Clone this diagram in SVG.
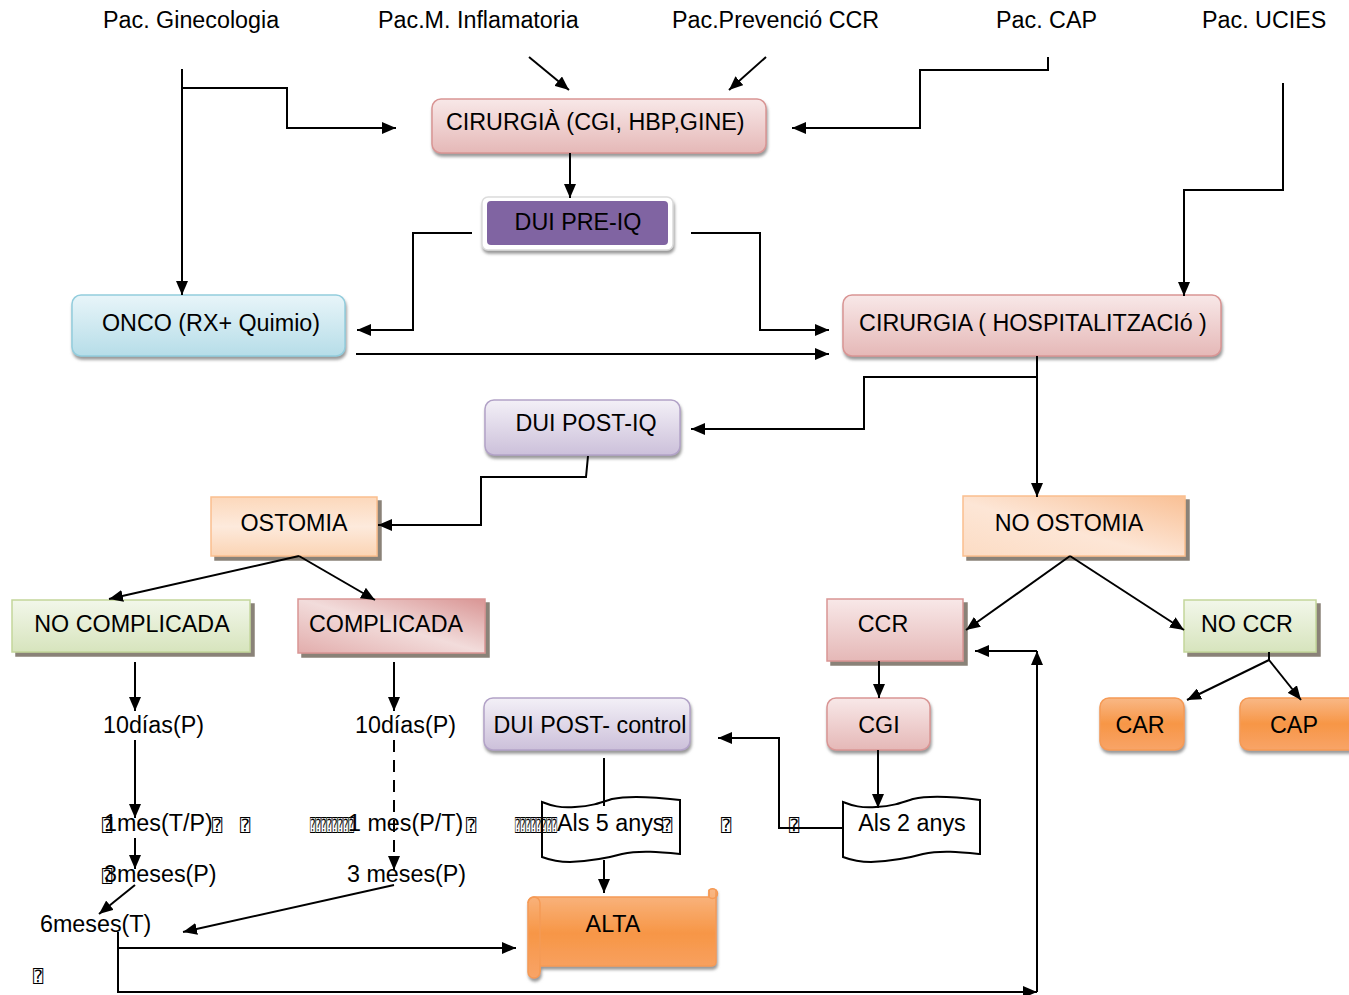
<svg xmlns="http://www.w3.org/2000/svg" width="1349" height="995" viewBox="0 0 1349 995">
  <defs>
    <linearGradient id="gPink" x1="0" y1="0" x2="0" y2="1">
      <stop offset="0" stop-color="#f8e8e8"/>
      <stop offset="1" stop-color="#e5b8b7"/>
    </linearGradient>
    <linearGradient id="gBlue" x1="0" y1="0" x2="0" y2="1">
      <stop offset="0" stop-color="#e8f5f9"/>
      <stop offset="1" stop-color="#b6dde8"/>
    </linearGradient>
    <linearGradient id="gLav" x1="0" y1="0" x2="0" y2="1">
      <stop offset="0" stop-color="#f3f0f7"/>
      <stop offset="1" stop-color="#ccc0da"/>
    </linearGradient>
    <linearGradient id="gPeach" x1="0" y1="0" x2="0" y2="1">
      <stop offset="0" stop-color="#fcd8bb"/>
      <stop offset="0.5" stop-color="#fdeadc"/>
      <stop offset="1" stop-color="#fbd4b4"/>
    </linearGradient>
    <linearGradient id="gPeachDiag" x1="1" y1="0" x2="0" y2="1">
      <stop offset="0" stop-color="#f9c095"/>
      <stop offset="0.55" stop-color="#fde6d6"/>
      <stop offset="1" stop-color="#fcdcc4"/>
    </linearGradient>
    <linearGradient id="gGreen" x1="0" y1="0" x2="0" y2="1">
      <stop offset="0" stop-color="#f2f7ea"/>
      <stop offset="1" stop-color="#d7e4bd"/>
    </linearGradient>
    <linearGradient id="gRed" x1="1" y1="0" x2="0" y2="1">
      <stop offset="0" stop-color="#d99594"/>
      <stop offset="0.5" stop-color="#f2dcdb"/>
      <stop offset="1" stop-color="#e2adac"/>
    </linearGradient>
    <linearGradient id="gOrange" x1="0" y1="0" x2="0" y2="1">
      <stop offset="0" stop-color="#f9b886"/>
      <stop offset="0.5" stop-color="#f79646"/>
      <stop offset="1" stop-color="#f8a468"/>
    </linearGradient>
    <filter id="soft" x="-10%" y="-10%" width="125%" height="140%">
      <feDropShadow dx="1" dy="3" stdDeviation="1.5" flood-color="#7f7f7f" flood-opacity="0.8"/>
    </filter>
    <filter id="hard" x="-10%" y="-10%" width="125%" height="140%">
      <feDropShadow dx="4" dy="4" stdDeviation="0.6" flood-color="#8a8278" flood-opacity="1"/>
    </filter>
    <marker id="arr" markerUnits="userSpaceOnUse" markerWidth="14" markerHeight="12" viewBox="0 0 14 12" refX="14" refY="6" orient="auto">
      <path d="M0,0 L14,6 L0,12 z" fill="#000"/>
    </marker>
    <style>
      text { font-family: "Liberation Sans", Arial, sans-serif; font-size: 23.3px; fill: #000; }
      .c { text-anchor: middle; }
      .tofu { font-family: "DejaVu Sans Mono", "DejaVu Sans", monospace; font-size: 17px; }
      .line { fill: none; stroke: #000; stroke-width: 2; }
      .arrow { fill: none; stroke: #000; stroke-width: 2; marker-end: url(#arr); }
      .pink { fill: url(#gPink); stroke: #d99594; stroke-width: 1.5; }
      .blue { fill: url(#gBlue); stroke: #93cddd; stroke-width: 1.5; }
      .lav { fill: url(#gLav); stroke: #b2a2c7; stroke-width: 1.5; }
      .peach { fill: url(#gPeach); stroke: #fabf8f; stroke-width: 1.5; }
      .green { fill: url(#gGreen); stroke: #c3d69b; stroke-width: 1.5; }
      .orange { fill: url(#gOrange); stroke: #f59a55; stroke-width: 1.5; }
      .doc { fill: #fff; stroke: #000; stroke-width: 2; }
    </style>
  </defs>

  <rect width="1349" height="995" fill="#fff"/>

  <!-- patient origin labels -->
  <g id="origins">
    <text x="103" y="28">Pac. Ginecologia</text>
    <text x="378" y="28">Pac.M. Inflamatoria</text>
    <text x="672" y="28">Pac.Prevenció CCR</text>
    <text x="996" y="28">Pac. CAP</text>
    <text x="1202" y="28">Pac. UCIES</text>
  </g>

  <g id="cirurgia-prog">
    <rect class="pink" x="432" y="99" width="334" height="54" rx="9" filter="url(#soft)"/>
    <text x="446" y="130">CIRURGIÀ (CGI, HBP,GINE)</text>
  </g>

  <g id="dui-pre-iq">
    <rect x="482" y="197" width="191" height="53" rx="6" fill="#fff" stroke="#dcdcdc" stroke-width="1.5" filter="url(#soft)"/>
    <rect x="487" y="201" width="181" height="44" rx="4" fill="#8064a2"/>
    <text class="c" x="578" y="230">DUI PRE-IQ</text>
  </g>

  <g id="onco">
    <rect class="blue" x="72" y="295" width="273" height="61" rx="9" filter="url(#soft)"/>
    <text class="c" x="211" y="331">ONCO (RX+ Quimio)</text>
  </g>

  <g id="cirurgia-hosp">
    <rect class="pink" x="843" y="295" width="378" height="61" rx="9" filter="url(#soft)"/>
    <text class="c" x="1033" y="331">CIRURGIA ( HOSPITALITZACIó )</text>
  </g>

  <g id="dui-post-iq">
    <rect class="lav" x="485" y="400" width="195" height="55" rx="9" filter="url(#soft)"/>
    <text class="c" x="586" y="431">DUI POST-IQ</text>
  </g>

  <g id="ostomia">
    <rect class="peach" x="211" y="497" width="166" height="59" filter="url(#hard)"/>
    <text class="c" x="294" y="531">OSTOMIA</text>
  </g>

  <g id="no-ostomia">
    <rect x="963" y="496" width="222" height="60" fill="url(#gPeachDiag)" stroke="#fabf8f" stroke-width="1.5" filter="url(#hard)"/>
    <text class="c" x="1069" y="531">NO OSTOMIA</text>
  </g>

  <g id="no-complicada">
    <rect class="green" x="12" y="600" width="238" height="52" filter="url(#hard)"/>
    <text class="c" x="132" y="632">NO COMPLICADA</text>
  </g>

  <g id="complicada">
    <rect x="298" y="599" width="187" height="54" fill="url(#gRed)" stroke="#d99594" stroke-width="1.5" filter="url(#hard)"/>
    <text class="c" x="386" y="632">COMPLICADA</text>
  </g>

  <g id="ccr">
    <rect class="pink" x="827" y="599" width="136" height="62" filter="url(#hard)"/>
    <text class="c" x="883" y="632">CCR</text>
  </g>

  <g id="no-ccr">
    <rect class="green" x="1184" y="600" width="132" height="52" filter="url(#hard)"/>
    <text class="c" x="1247" y="632">NO CCR</text>
  </g>

  <g id="cgi">
    <rect class="pink" x="827" y="698" width="103" height="52" rx="9" filter="url(#soft)"/>
    <text class="c" x="879" y="733">CGI</text>
  </g>

  <g id="car">
    <rect class="orange" x="1100" y="698" width="84" height="52" rx="9" filter="url(#soft)"/>
    <text class="c" x="1140" y="733">CAR</text>
  </g>

  <g id="cap">
    <rect class="orange" x="1240" y="698" width="120" height="52" rx="9" filter="url(#soft)"/>
    <text class="c" x="1294" y="733">CAP</text>
  </g>

  <g id="dui-post-control">
    <rect class="lav" x="484" y="698" width="206" height="52" rx="9" filter="url(#soft)"/>
    <text class="c" x="590" y="733">DUI POST- control</text>
  </g>

  <!-- follow-up steps, no complication -->
  <g id="steps-nc">
    <text x="103" y="733">10días(P)</text>
    <text x="104" y="831">1mes(T/P)</text>
    <text class="tofu" x="102" y="831">⍰</text>
    <text class="tofu" x="212" y="831">⍰</text>
    <text class="tofu" x="240" y="831">⍰</text>
    <text x="104" y="882">3meses(P)</text>
    <text class="tofu" x="102" y="882">⍰</text>
    <text x="40" y="932">6meses(T)</text>
    <text class="tofu" x="33" y="982">⍰</text>
  </g>

  <!-- follow-up steps, complication -->
  <g id="steps-c">
    <text x="355" y="733">10días(P)</text>
    <text class="tofu" x="310" y="831" textLength="44" lengthAdjust="spacingAndGlyphs">⍰⍰⍰⍰⍰⍰⍰⍰</text>
    <text x="348" y="831">1 mes(P/T)</text>
    <text class="tofu" x="466" y="831">⍰</text>
    <text x="347" y="882">3 meses(P)</text>
  </g>

  <g id="als-5-anys">
    <path class="doc" d="M542,802 C552,806 560,808 575,807 C592,806 600,803 612,799 C630,795 655,797 680,800 L680,854 C660,852 640,850 622,854 C608,858 590,861 570,862 C558,862 550,860 542,857 Z"/>
    <text class="tofu" x="515" y="831" textLength="42" lengthAdjust="spacingAndGlyphs">⍰⍰⍰⍰⍰⍰⍰⍰</text>
    <text x="557" y="831">Als 5 anys</text>
    <text class="tofu" x="662" y="831">⍰</text>
    <text class="tofu" x="721" y="831">⍰</text>
    <text class="tofu" x="789" y="831">⍰</text>
  </g>

  <g id="als-2-anys">
    <path class="doc" d="M843,802 C853,806 861,808 876,807 C893,806 901,803 913,799 C931,795 956,797 980,800 L980,854 C960,852 941,850 923,854 C909,858 891,861 871,862 C859,862 851,860 843,857 Z"/>
    <text class="c" x="912" y="831">Als 2 anys</text>
  </g>

  <g id="alta">
    <path class="orange" d="M535,897 H709 V890 A6,6 0 0 1 716,890 V962 A4,4 0 0 1 712,966 H540 V972 A6,6 0 0 1 528,972 V903 A6,6 0 0 1 535,897 Z" filter="url(#soft)"/>
    <path d="M540,903 V972 M528,903 A6,6 0 0 1 540,903 M709,890 V897 A4,4 0 0 0 716,890" fill="none" stroke="#f59a55" stroke-width="1.5"/>
    <text class="c" x="613" y="932">ALTA</text>
  </g>

  <!-- connectors -->
  <g id="connectors">
    <path class="arrow" d="M182,69 V295"/>
    <path class="arrow" d="M182,88 H287 V128 H396"/>
    <path class="arrow" d="M529,57 L569,90"/>
    <path class="arrow" d="M766,57 L729,90"/>
    <path class="arrow" d="M1048,57 V70 H920 V128 H792"/>
    <path class="arrow" d="M1283,83 V190 H1184 V296"/>
    <path class="arrow" d="M570,153 V198"/>
    <path class="arrow" d="M472,233 H413 V330 H357"/>
    <path class="arrow" d="M691,233 H760 V330 H829"/>
    <path class="arrow" d="M356,354 H829"/>
    <path class="arrow" d="M1037,356 V497"/>
    <path class="arrow" d="M1037,377 H864 V429 H691"/>
    <path class="arrow" d="M588,456 L586,477 H481 V525 H378"/>
    <path class="arrow" d="M299,556 L109,599"/>
    <path class="arrow" d="M299,556 L375,600"/>
    <path class="arrow" d="M1070,556 L966,630"/>
    <path class="arrow" d="M1070,556 L1184,630"/>
    <path class="arrow" d="M135,662 V711"/>
    <path class="arrow" d="M394,662 V711"/>
    <path class="arrow" d="M135,740 V818"/>
    <path class="arrow" d="M135,838 V869"/>
    <path class="arrow" d="M135,885 L99,914"/>
    <path class="arrow" d="M394,740 V870" stroke-dasharray="12,8"/>
    <path class="arrow" d="M394,885 L183,932"/>
    <path class="arrow" d="M118,932 V992 H1037"/>
    <path class="arrow" d="M1037,992 V651"/>
    <path class="arrow" d="M1037,651 H975"/>
    <path class="arrow" d="M118,948 H516"/>
    <path class="line" d="M604,758 V806"/>
    <path class="arrow" d="M604,860 V893"/>
    <path class="arrow" d="M879,661 V698"/>
    <path class="arrow" d="M878,750 V808"/>
    <path class="arrow" d="M843,828 H779 V738 H718"/>
    <path class="line" d="M1269,652 V660"/>
    <path class="arrow" d="M1269,660 L1187,700"/>
    <path class="arrow" d="M1269,660 L1301,700"/>
  </g>
</svg>
